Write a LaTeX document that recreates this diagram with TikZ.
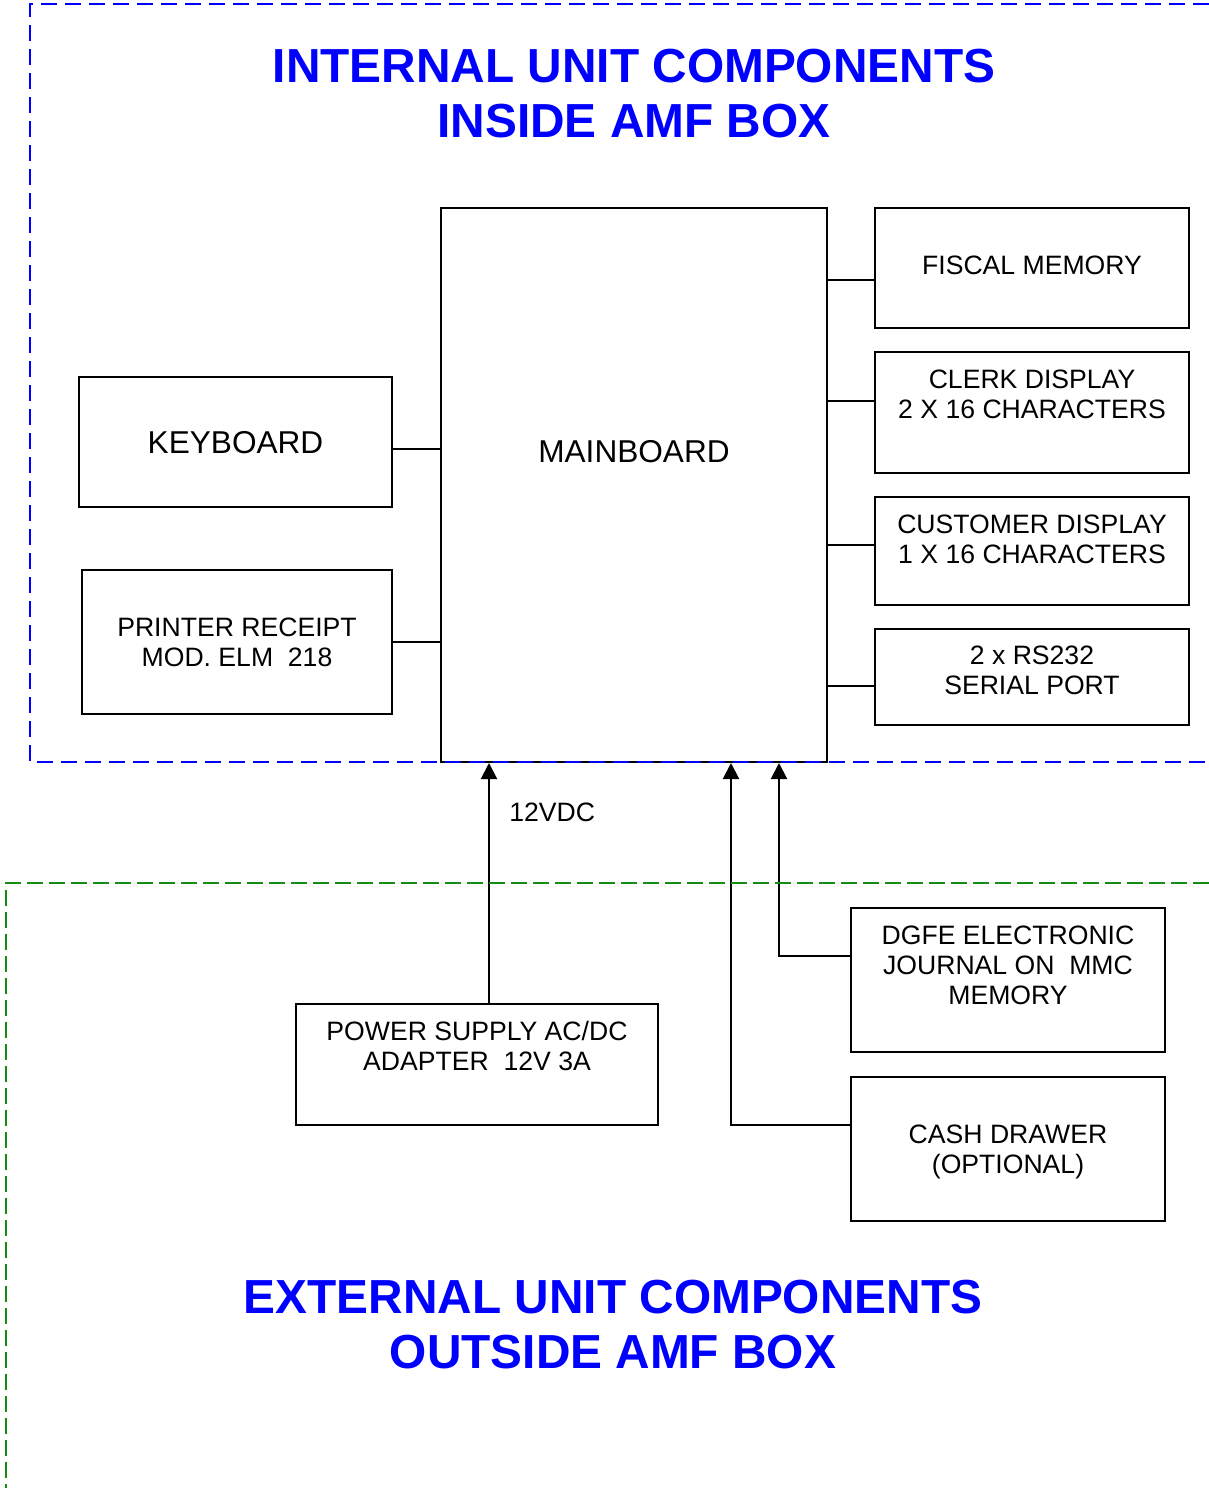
\documentclass[tikz,border=0pt]{standalone}
\usepackage{fontspec}
\setmainfont{Liberation Sans}
\usepackage{tikz}
\usetikzlibrary{arrows.meta,positioning,calc}

\definecolor{frameblue}{RGB}{0,0,255}
\definecolor{framegreen}{RGB}{20,140,20}

\begin{document}
\begin{tikzpicture}[x=0.5pt,y=-0.5pt,
    unitbox/.style={draw,line width=1pt,inner sep=0pt},
    lbl/.style={align=center,inner sep=0pt,font=\fontsize{13.3}{15}\selectfont},
    biglbl/.style={align=center,inner sep=0pt,font=\fontsize{15.8}{18}\selectfont},
    title/.style={align=center,inner sep=0pt,text=frameblue,font=\fontsize{23.9}{27.5}\selectfont\bfseries},
    wire/.style={line width=1pt},
    feed/.style={line width=1pt,-{Triangle[length=8pt,width=8pt]}},
    inframe/.style={frameblue,line width=1pt,dash pattern=on 8pt off 4pt},
    outframe/.style={framegreen,line width=1.2pt,dash pattern=on 8pt off 3pt}]
  \useasboundingbox (0,0) rectangle (1209,1488);
  % 内部ユニット
  \node[unitbox,minimum width=193pt,minimum height=277pt] (main) at (634,485) {};
  \node[biglbl] (maint) at (634,452) {MAINBOARD};
  \node[unitbox,minimum width=157pt,minimum height=60pt] (fiscal) at (1032,268) {};
  \node[lbl] (fiscalt) at (1032,265) {FISCAL MEMORY};
  \node[unitbox,minimum width=157pt,minimum height=60.5pt] (clerk) at (1032,412.5) {};
  \node[lbl] (clerkt) at (1032,394) {CLERK DISPLAY\\2 X 16 CHARACTERS};
  \node[unitbox,minimum width=157pt,minimum height=54pt] (cust) at (1032,551) {};
  \node[lbl] (custt) at (1032,539) {CUSTOMER DISPLAY\\1 X 16 CHARACTERS};
  \node[unitbox,minimum width=157pt,minimum height=48pt] (serial) at (1032,677) {};
  \node[lbl] (serialt) at (1032,670) {2 x RS232\\SERIAL PORT};
  \node[unitbox,minimum width=156.5pt,minimum height=65pt] (keyb) at (235.5,442) {};
  \node[biglbl] (keybt) at (235.5,443) {KEYBOARD};
  \node[unitbox,minimum width=155pt,minimum height=72pt] (printer) at (237,642) {};
  \node[lbl] (printert) at (237,642) {PRINTER RECEIPT\\MOD. ELM\ \ 218};
  \draw[wire] (fiscal.west |- 0,280) -- (main.east |- 0,280);
  \draw[wire] (clerk.west |- 0,401) -- (main.east |- 0,401);
  \draw[wire] (cust.west |- 0,545) -- (main.east |- 0,545);
  \draw[wire] (serial.west |- 0,686) -- (main.east |- 0,686);
  \draw[wire] (keyb.east |- 0,449) -- (main.west |- 0,449);
  \draw[wire] (printer.east |- 0,642) -- (main.west |- 0,642);
  \draw[inframe] (1209,4) -- (30,4) -- (30,762) -- (1209,762);
  \node[title] (intitle) at (634,93.5) {INTERNAL UNIT COMPONENTS\\INSIDE AMF BOX};
  % 外部ユニット
  \node[unitbox,minimum width=181pt,minimum height=60.5pt] (power) at (477,1064.5) {};
  \node[lbl] (powert) at (477,1046) {POWER SUPPLY AC/DC\\ADAPTER\ \ 12V 3A};
  \node[unitbox,minimum width=157pt,minimum height=72pt] (dgfe) at (1008,980) {};
  \node[lbl] (dgfet) at (1008,965) {DGFE ELECTRONIC\\JOURNAL ON\ \ MMC\\MEMORY};
  \node[unitbox,minimum width=157pt,minimum height=72pt] (cash) at (1008,1149) {};
  \node[lbl] (casht) at (1008,1152) {CASH DRAWER\\(OPTIONAL)};
  \draw[feed] (power.north -| 489,0) -- (main.south -| 489,0);
  \draw[feed] (dgfe.west |- 0,956) -| (main.south -| 779,0);
  \draw[feed] (cash.west |- 0,1125) -| (main.south -| 731,0);
  \node[lbl,anchor=west] (vdc) at (509,812) {12VDC};
  \draw[outframe] (1209,883) -- (6,883) -- (6,1488);
  \node[title] (outtitle) at (613,1324.5) {EXTERNAL UNIT COMPONENTS\\OUTSIDE AMF BOX};
\end{tikzpicture}
\end{document}
